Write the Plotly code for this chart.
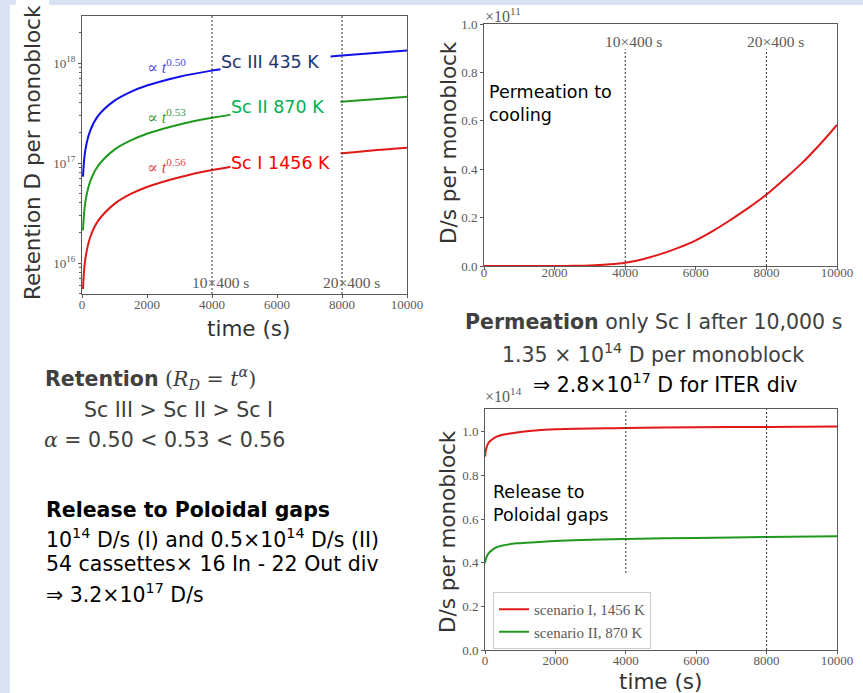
import plotly.graph_objects as go

W, H = 863, 693

# ---------------- data ----------------
# Panel 1: retention (D per monoblock) vs time
RET_T = [30, 100, 250, 500, 1000, 1500, 2000, 3000, 4000, 5000, 6000, 7000, 8000, 9000, 10000]
RET_SC3 = [7.3e16, 1.33e17, 2.1e17, 2.97e17, 4.2e17, 5.15e17, 5.95e17, 7.3e17, 8.4e17,
           9.4e17, 1.03e18, 1.11e18, 1.19e18, 1.26e18, 1.33e18]
RET_SC2 = [2.12e16, 4.0e16, 6.5e16, 9.4e16, 1.36e17, 1.68e17, 1.96e17, 2.43e17, 2.83e17,
           3.19e17, 3.51e17, 3.81e17, 4.09e17, 4.35e17, 4.6e17]
RET_SC1 = [5.5e15, 1.08e16, 1.8e16, 2.65e16, 3.9e16, 4.9e16, 5.75e16, 7.2e16, 8.5e16,
           9.6e16, 1.07e17, 1.16e17, 1.25e17, 1.34e17, 1.42e17]

# Panel 2: permeation to cooling (units of 1e11 D/s)
PERM_T = [0, 1000, 2000, 2500, 3000, 3500, 4000, 4500, 5000, 5500, 6000, 6500, 7000,
          7500, 8000, 8500, 9000, 9500, 10000]
PERM_SC1 = [0, 0, 0.0002, 0.0006, 0.002, 0.006, 0.013, 0.028, 0.049, 0.075, 0.106, 0.146,
            0.192, 0.241, 0.295, 0.358, 0.424, 0.5, 0.583]

# Panel 3: release to poloidal gaps (units of 1e14 D/s)
REL_T = [0, 30, 100, 200, 330, 500, 900, 1000, 2000, 4000, 6000, 8000, 10000]
REL_SC1 = [0.887, 0.92, 0.95, 0.965, 0.978, 0.987, 0.997, 1.0, 1.012, 1.018, 1.021, 1.023, 1.025]
REL_SC2 = [0.398, 0.42, 0.443, 0.458, 0.471, 0.479, 0.489, 0.49, 0.5, 0.509, 0.514, 0.518, 0.522]

VLINE_T = [4000, 8000]
VLINE_LABELS = ["10×400 s", "20×400 s"]
X_TICKS = [0, 2000, 4000, 6000, 8000, 10000]
LIN_TICKS = [0.0, 0.2, 0.4, 0.6, 0.8, 1.0]

C_BLUE = "#1010e8"
C_GREEN = "#1f9a1f"
C_RED = "#e01818"

SANS = "'DejaVu Sans', sans-serif"
SERIF = "'Liberation Serif', 'DejaVu Serif', serif"
AX_COL = "#5a5a5a"


def px(x):
    return x / W


def py(y):
    return 1 - y / H


fig = go.Figure()

# Panel 1 traces
for ys, c in [(RET_SC3, C_BLUE), (RET_SC2, C_GREEN), (RET_SC1, C_RED)]:
    fig.add_trace(go.Scatter(x=RET_T, y=ys, mode="lines", line=dict(color=c, width=2, shape="spline"),
                             showlegend=False, xaxis="x", yaxis="y", hoverinfo="skip"))

# Panel 2 trace
fig.add_trace(go.Scatter(x=PERM_T, y=PERM_SC1, mode="lines", line=dict(color=C_RED, width=2, shape="spline"),
                         showlegend=False, xaxis="x2", yaxis="y2", hoverinfo="skip"))

# Panel 3 traces
fig.add_trace(go.Scatter(x=REL_T, y=REL_SC1, mode="lines", line=dict(color=C_RED, width=2, shape="spline"),
                         name="scenario I, 1456 K", xaxis="x3", yaxis="y3", hoverinfo="skip"))
fig.add_trace(go.Scatter(x=REL_T, y=REL_SC2, mode="lines", line=dict(color=C_GREEN, width=2, shape="spline"),
                         name="scenario II, 870 K", xaxis="x3", yaxis="y3", hoverinfo="skip"))

tickfont = dict(family=SERIF, size=13, color=AX_COL)
common = dict(showline=True, mirror=True, linecolor=AX_COL, linewidth=1, showgrid=False,
              zeroline=False, ticks="outside", ticklen=3, tickcolor=AX_COL, tickfont=tickfont,
              automargin=False)
xcommon = dict(range=[0, 10000], tickvals=X_TICKS, ticktext=[str(v) for v in X_TICKS], **common)

minor_vals = [m * 10 ** k for k in range(15, 19) for m in range(2, 10)]

fig.update_layout(
    template="none",
    width=W, height=H, autosize=False, margin=dict(l=0, r=0, t=0, b=0, pad=0),
    paper_bgcolor="white", plot_bgcolor="white",
    xaxis=dict(domain=[px(82), px(407)], anchor="y", ticklabelstandoff=-5, **xcommon),
    yaxis=dict(domain=[py(294), py(16)], type="log", range=[15.69, 18.47], anchor="x",
               tickvals=[1e16, 1e17, 1e18],
               ticktext=["10<sup>16</sup>", "10<sup>17</sup>", "10<sup>18</sup>"],
               minor=dict(ticks="outside", ticklen=2, tickcolor=AX_COL, tickvals=minor_vals),
               **common),
    xaxis2=dict(domain=[px(484), px(837)], anchor="y2", ticklabelstandoff=-9, **xcommon),
    yaxis2=dict(domain=[py(266), py(24)], range=[0, 1.0], tickvals=LIN_TICKS,
                ticktext=[f"{v:.1f}" for v in LIN_TICKS], anchor="x2", **common),
    xaxis3=dict(domain=[px(485), px(837)], anchor="y3", ticklabelstandoff=-5, **xcommon),
    yaxis3=dict(domain=[py(650), py(409)], range=[0, 1.105], tickvals=LIN_TICKS,
                ticktext=[f"{v:.1f}" for v in LIN_TICKS], anchor="x3", **common),
    legend=dict(x=px(493), y=py(592), xanchor="left", yanchor="top", bgcolor="white",
                bordercolor="#cccccc", borderwidth=1, font=dict(family=SERIF, size=15, color=AX_COL),
                itemwidth=30, tracegroupgap=0),
)

shapes = []
# slide background bands
shapes.append(dict(type="rect", xref="paper", yref="paper", x0=0, x1=1, y0=py(5), y1=1,
                   fillcolor="#dae3f3", line=dict(width=0), layer="below"))
shapes.append(dict(type="rect", xref="paper", yref="paper", x0=0, x1=px(10), y0=0, y1=1,
                   fillcolor="#dae3f3", line=dict(width=0), layer="below"))
shapes.append(dict(type="rect", xref="paper", yref="paper", x0=px(16), x1=px(49), y0=py(5), y1=1,
                   fillcolor="white", line=dict(width=0), layer="below"))

dot = dict(color="#333333", width=1, dash="2px,2px")
for t in VLINE_T:
    shapes.append(dict(type="line", xref="x", yref="y domain", x0=t, x1=t, y0=0, y1=1, line=dot))
    shapes.append(dict(type="line", xref="x2", yref="y2", x0=t, x1=t, y0=0, y1=0.896, line=dot))
shapes.append(dict(type="line", xref="x3", yref="y3", x0=VLINE_T[0], x1=VLINE_T[0], y0=0.353, y1=1.105, line=dot))
shapes.append(dict(type="line", xref="x3", yref="y3 domain", x0=VLINE_T[1], x1=VLINE_T[1], y0=0, y1=1, line=dot))
fig.update_layout(shapes=shapes)

ann = []
serif_lab = dict(family=SERIF, size=15.5, color=AX_COL)
# vline labels
for t, lab, dx in zip(VLINE_T, VLINE_LABELS, [250, 280]):
    ann.append(dict(xref="x", yref="y domain", x=t + dx, y=0.043, text=lab, showarrow=False,
                    font=serif_lab, xanchor="center", yanchor="middle"))
for t, lab, dx in zip(VLINE_T, VLINE_LABELS, [230, 255]):
    ann.append(dict(xref="x2", yref="y2 domain", x=t + dx, y=0.926, text=lab, showarrow=False,
                    font=serif_lab, xanchor="center", yanchor="middle"))

# power law annotations
for txt, yv, c in [("∝ <i>t</i><sup>0.50</sup>", 17.97, "#4a4ae0"),
                   ("∝ <i>t</i><sup>0.53</sup>", 17.47, "#3a9a3a"),
                   ("∝ <i>t</i><sup>0.56</sup>", 16.97, "#e04848")]:
    ann.append(dict(xref="x", yref="y", x=2615, y=yv, text=txt, showarrow=False,
                    font=dict(family=SERIF, size=16, color=c), xanchor="center", yanchor="middle"))

# scenario labels with white boxes (hide curve)
for txt, xc, yv, c in [("Sc III 435 K", 5954, 18.01, "#1f3470"),
                       ("Sc II 870 K", 6262, 17.56, "#00b050"),
                       ("Sc I 1456 K", 6262, 17.0, "#ff0000")]:
    ann.append(dict(xref="x", yref="y", x=xc, y=yv, text=txt, showarrow=False, width=109, height=26,
                    align="left", bgcolor="white", borderpad=0,
                    font=dict(family=SANS, size=17.5, color=c), xanchor="center", yanchor="middle"))

# axis titles
title_font = dict(family=SANS, size=21.5, color="#333333")
ann.append(dict(xref="paper", yref="paper", x=px(33), y=py(153), text="Retention D per monoblock",
                textangle=-90, showarrow=False, font=title_font, xanchor="center", yanchor="middle"))
ann.append(dict(xref="paper", yref="paper", x=px(248), y=py(328), text="time (s)",
                showarrow=False, font=title_font, xanchor="center", yanchor="middle"))
ann.append(dict(xref="paper", yref="paper", x=px(448), y=py(142), text="D/s per monoblock",
                textangle=-90, showarrow=False, font=title_font, xanchor="center", yanchor="middle"))
ann.append(dict(xref="paper", yref="paper", x=px(447), y=py(532), text="D/s per monoblock",
                textangle=-90, showarrow=False, font=title_font, xanchor="center", yanchor="middle"))
ann.append(dict(xref="paper", yref="paper", x=px(660), y=py(681), text="time (s)",
                showarrow=False, font=title_font, xanchor="center", yanchor="middle"))

# offset labels
ann.append(dict(xref="paper", yref="paper", x=px(483), y=py(15), text="×10<sup>11</sup>",
                showarrow=False, font=dict(family=SERIF, size=16, color=AX_COL),
                xanchor="left", yanchor="middle"))
ann.append(dict(xref="paper", yref="paper", x=px(483), y=py(395), text="×10<sup>14</sup>",
                showarrow=False, font=dict(family=SERIF, size=16, color=AX_COL),
                xanchor="left", yanchor="middle"))

# in-plot texts
inplot = dict(family=SANS, size=17.5, color="black")
ann.append(dict(xref="paper", yref="paper", x=px(487), y=py(104), text="Permeation to<br>cooling",
                showarrow=False, font=inplot, xanchor="left", yanchor="middle", align="left"))
ann.append(dict(xref="paper", yref="paper", x=px(491), y=py(503), text="Release to<br>Poloidal gaps",
                showarrow=False, font=inplot, xanchor="left", yanchor="middle", align="left"))

# text blocks
body = dict(family=SANS, size=20.5, color="#404040")
bodyk = dict(family=SANS, size=20.5, color="black")
MATH = "font-family:'DejaVu Serif',serif"
text_lines = [
    (43, 378, "<b>Retention</b> <span style=\"%s\">(<i>R</i><sub><i>D</i></sub> = <i>t</i><sup><i>α</i></sup>)</span>" % MATH, body, "left"),
    (178, 410, "Sc III > Sc II > Sc I", body, "center"),
    (42, 440, "<span style=\"%s\"><i>α</i></span> = 0.50 < 0.53 < 0.56" % MATH, body, "left"),
    (44, 510, "<b>Release to Poloidal gaps</b>", bodyk, "left"),
    (44, 538, "10<sup>14</sup> D/s (I) and 0.5×10<sup>14</sup> D/s (II)", bodyk, "left"),
    (44, 564, "54 cassettes× 16 In - 22 Out div", bodyk, "left"),
    (44, 593, "⇒ 3.2×10<sup>17</sup> D/s", bodyk, "left"),
    (653, 322, "<b>Permeation</b> only Sc I after 10,000 s", body, "center"),
    (653, 353, "1.35 × 10<sup>14</sup> D per monoblock", body, "center"),
    (665, 383, "⇒ 2.8×10<sup>17</sup> D for ITER div", bodyk, "center"),
]
for x, y, txt, f, xa in text_lines:
    ann.append(dict(xref="paper", yref="paper", x=px(x), y=py(y), text=txt, showarrow=False,
                    font=f, xanchor=xa, yanchor="middle"))

fig.update_layout(annotations=ann)
fig.write_html(
    "out.html",
    config={"displayModeBar": False},
    post_script=("document.body.style.margin='0';document.body.style.padding='0';"
                 "document.body.style.overflow='hidden';"
                 "document.documentElement.style.overflow='hidden';"),
)
